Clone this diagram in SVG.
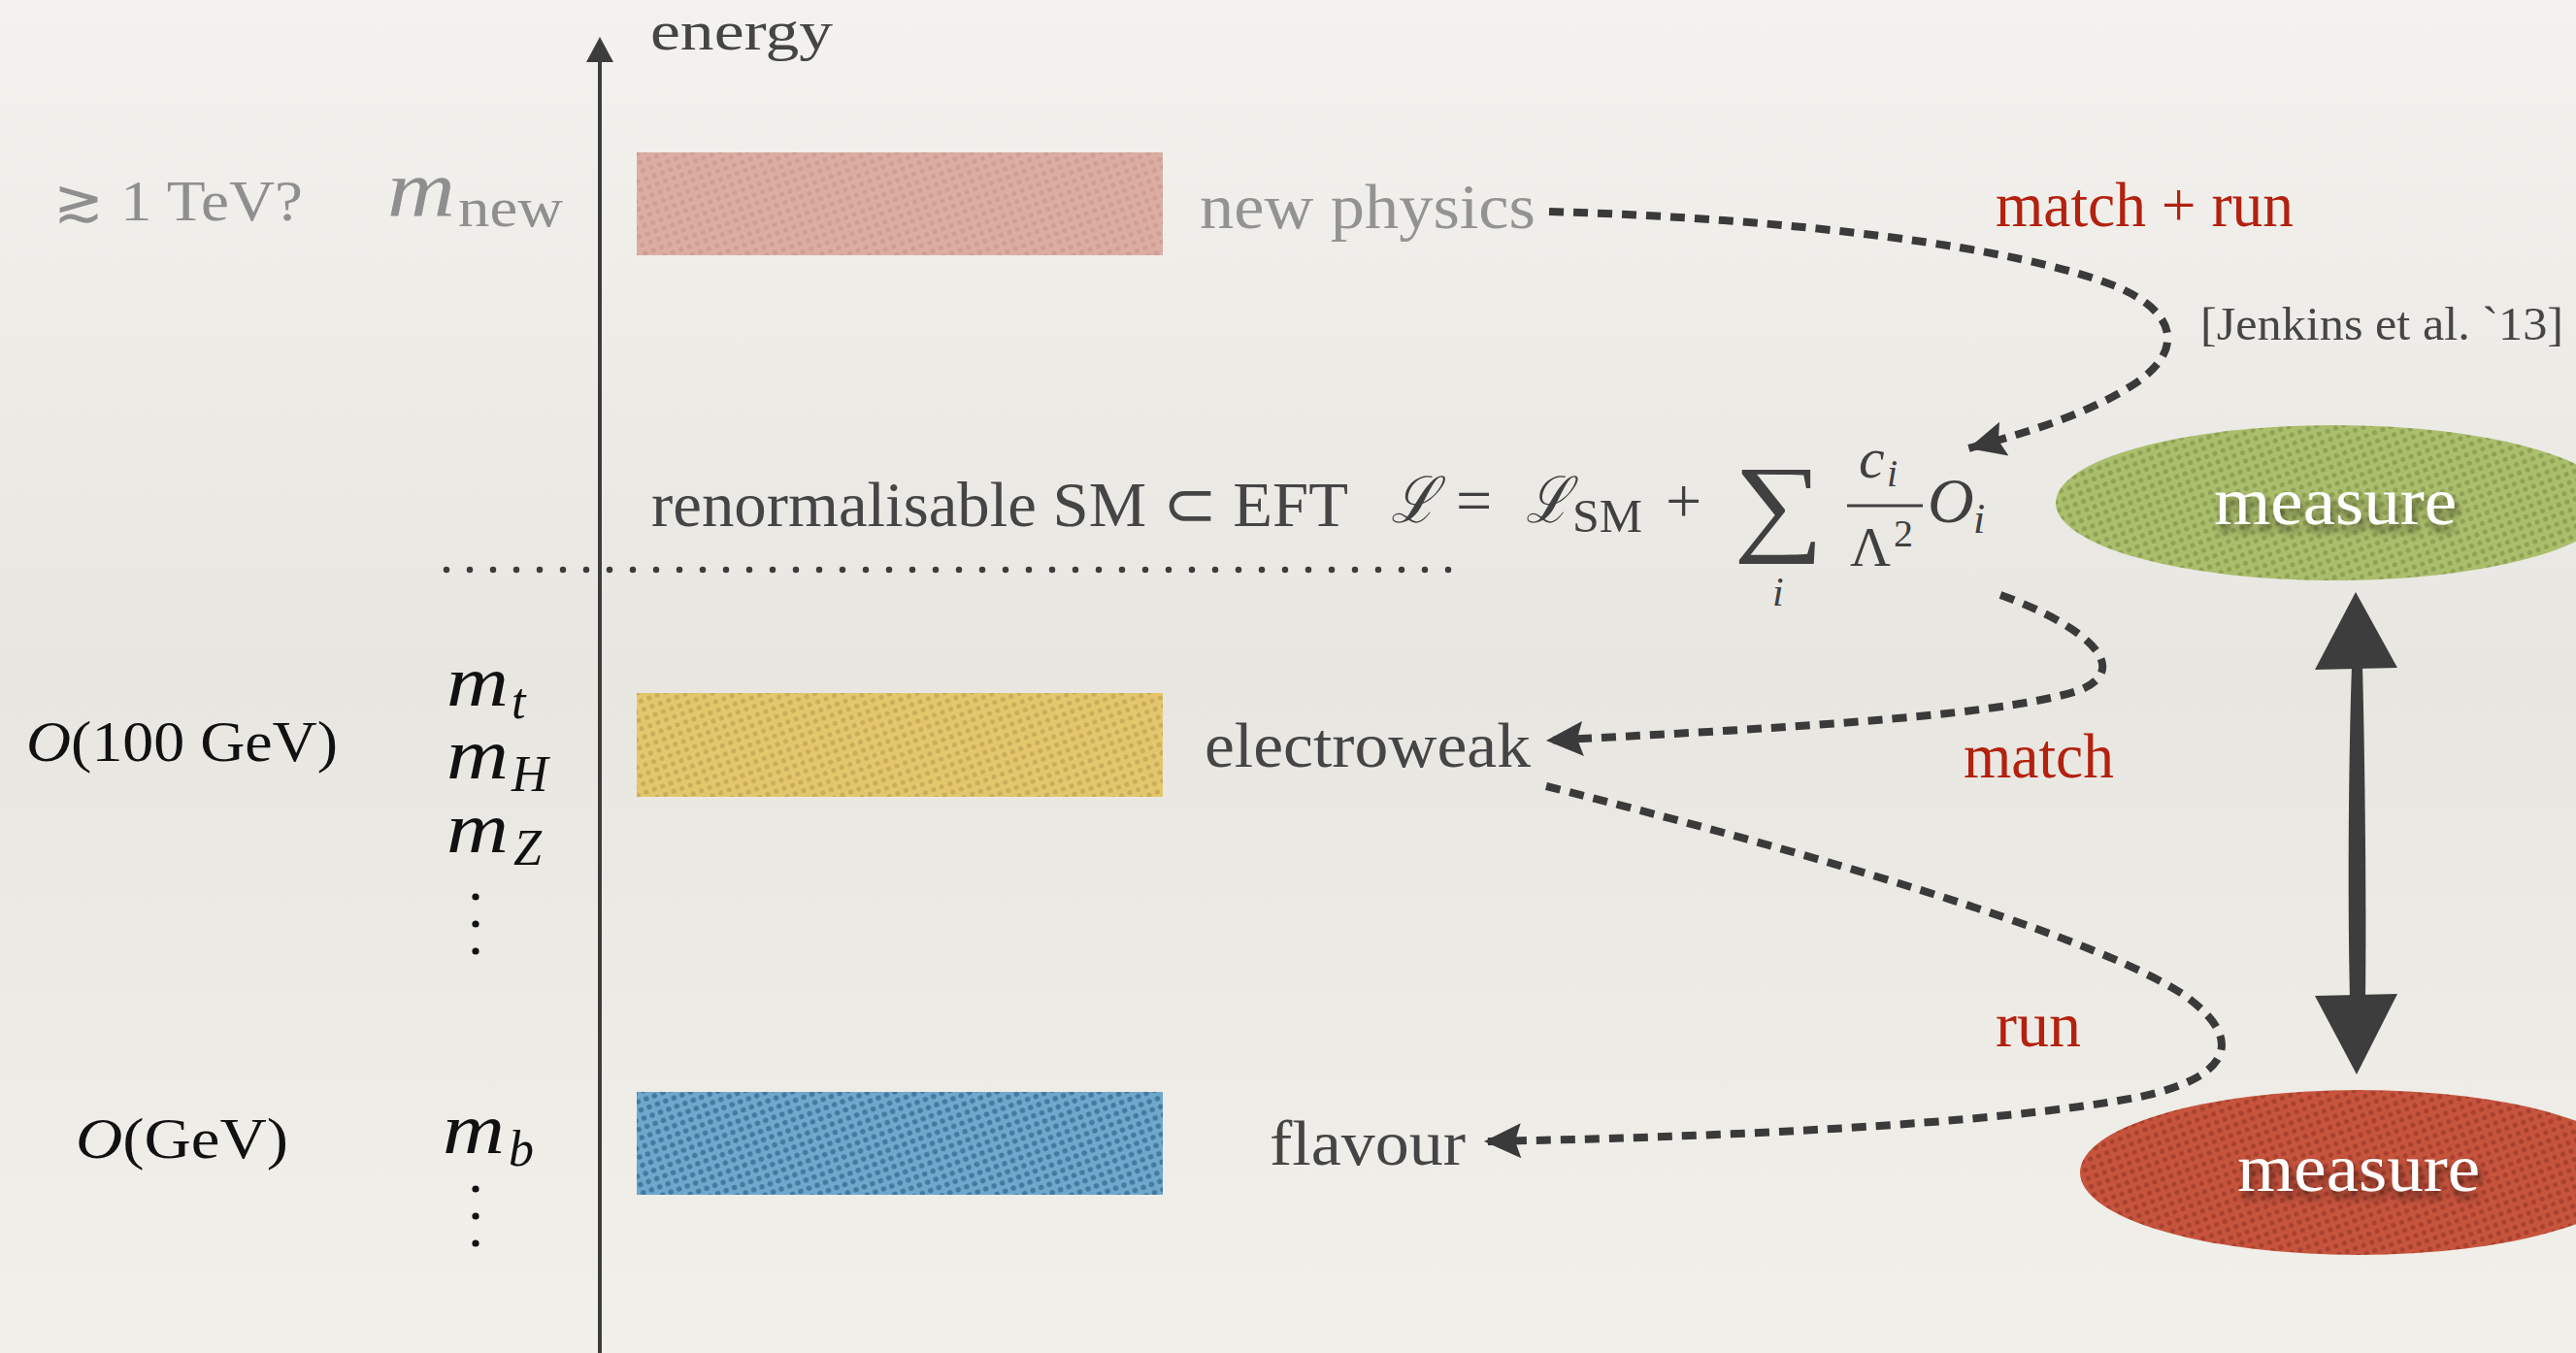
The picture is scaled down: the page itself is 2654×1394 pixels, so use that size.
<svg xmlns="http://www.w3.org/2000/svg" width="2654" height="1394" viewBox="0 0 2654 1394">
<style>
.lbl{font-family:"Liberation Serif","Times New Roman",serif;fill:#454545}
.gray{fill:#939391}
.red{fill:#b3210f}
.math{font-family:"Liberation Serif","DejaVu Serif",serif;fill:#111}
.it{font-style:italic}
.dash{fill:none;stroke:#3a3a3a;stroke-width:8;stroke-dasharray:15 10}
.meas{font-family:"Liberation Serif","Times New Roman",serif;fill:#fff;font-size:70px;text-anchor:middle}
</style>
<defs>
<linearGradient id="bg" x1="0" y1="0" x2="0" y2="1">
<stop offset="0" stop-color="#f4f2ee"/>
<stop offset="0.5" stop-color="#e8e6e1"/>
<stop offset="1" stop-color="#f2f0ea"/>
</linearGradient>
<pattern id="pPink" patternUnits="userSpaceOnUse" width="9" height="9" patternTransform="rotate(-20)">
<rect width="9" height="9" fill="#dcaea3"/><circle cx="4.5" cy="4.5" r="2.6" fill="#cf9e94"/>
</pattern>
<pattern id="pYel" patternUnits="userSpaceOnUse" width="9" height="9" patternTransform="rotate(-20)">
<rect width="9" height="9" fill="#e4c76c"/><circle cx="4.5" cy="4.5" r="2.6" fill="#c9ad5b"/>
</pattern>
<pattern id="pBlue" patternUnits="userSpaceOnUse" width="9" height="9" patternTransform="rotate(-20)">
<rect width="9" height="9" fill="#70a8cb"/><circle cx="4.5" cy="4.5" r="2.8" fill="#3f7ba2"/>
</pattern>
<pattern id="pGreen" patternUnits="userSpaceOnUse" width="9" height="9" patternTransform="rotate(-20)">
<rect width="9" height="9" fill="#abbe6c"/><circle cx="4.5" cy="4.5" r="2.6" fill="#8ea254"/>
</pattern>
<pattern id="pRed" patternUnits="userSpaceOnUse" width="9" height="9" patternTransform="rotate(-20)">
<rect width="9" height="9" fill="#c7543d"/><circle cx="4.5" cy="4.5" r="2.6" fill="#a8412f"/>
</pattern>
<filter id="shadow" x="-20%" y="-40%" width="140%" height="180%">
<feDropShadow dx="3" dy="7" stdDeviation="4" flood-color="#000" flood-opacity="0.55"/>
</filter>
<marker id="ah" markerUnits="userSpaceOnUse" markerWidth="44" markerHeight="40" refX="40" refY="18" orient="auto" viewBox="0 0 44 40">
<path d="M40,18 L2,0 L8,18 L2,36 Z" fill="#3a3a3a"/>
</marker>
</defs>
<rect width="2654" height="1394" fill="url(#bg)"/>

<g id="axis">
<line x1="618" y1="55" x2="618" y2="1394" stroke="#3c3c3c" stroke-width="4"/>
<path d="M618,38 L632,64 L604,64 Z" fill="#3c3c3c"/>
<text class="lbl" x="670" y="51" font-size="57" textLength="188" lengthAdjust="spacingAndGlyphs">energy</text>
</g>

<g id="scale-labels">
<text class="math" x="55" y="228" font-size="62" style="fill:#8f8f8f">≳</text>
<text class="math" x="124" y="227" font-size="60" style="fill:#8f8f8f" textLength="188" lengthAdjust="spacingAndGlyphs">1 TeV?</text>
<text class="math it" x="399" y="222" font-size="82" style="fill:#8f8f8f" textLength="70" lengthAdjust="spacingAndGlyphs">m</text>
<text class="math" x="472" y="233" font-size="58" style="fill:#8f8f8f" textLength="108" lengthAdjust="spacingAndGlyphs">new</text>

<text class="math" x="27" y="784" font-size="60" textLength="321" lengthAdjust="spacingAndGlyphs"><tspan font-style="italic">O</tspan>(100 GeV)</text>
<text class="math" x="78" y="1193" font-size="60" textLength="219" lengthAdjust="spacingAndGlyphs"><tspan font-style="italic">O</tspan>(GeV)</text>

<text class="math it" x="460" y="727" font-size="74" textLength="64" lengthAdjust="spacingAndGlyphs">m</text>
<text class="math it" x="527" y="740" font-size="52">t</text>
<text class="math it" x="460" y="802" font-size="74" textLength="64" lengthAdjust="spacingAndGlyphs">m</text>
<text class="math it" x="527" y="815" font-size="52">H</text>
<text class="math it" x="460" y="878" font-size="74" textLength="64" lengthAdjust="spacingAndGlyphs">m</text>
<text class="math it" x="529" y="891" font-size="52">Z</text>
<circle cx="490" cy="924" r="3.6" fill="#111"/>
<circle cx="490" cy="952" r="3.6" fill="#111"/>
<circle cx="490" cy="980" r="3.6" fill="#111"/>
<text class="math it" x="456" y="1188" font-size="74" textLength="64" lengthAdjust="spacingAndGlyphs">m</text>
<text class="math it" x="524" y="1201" font-size="52">b</text>
<circle cx="490" cy="1225" r="3.6" fill="#111"/>
<circle cx="490" cy="1253" r="3.6" fill="#111"/>
<circle cx="490" cy="1281" r="3.6" fill="#111"/>
</g>

<g id="new-physics">
<rect x="656" y="157" width="542" height="106" fill="url(#pPink)"/>
<text class="lbl gray" x="1236" y="235" font-size="66" textLength="346" lengthAdjust="spacingAndGlyphs">new physics</text>
</g>

<g id="eft">
<text class="lbl" x="671" y="542" font-size="66" textLength="718" lengthAdjust="spacingAndGlyphs">renormalisable SM ⊂ EFT</text>
<line x1="460" y1="587" x2="1500" y2="587" stroke="#3c3c3c" stroke-width="6.5" stroke-linecap="round" stroke-dasharray="0 24"/>
<g id="formula" fill="#404040" font-family="Liberation Serif, DejaVu Serif, serif">
<text x="1433" y="538" font-size="66" font-style="italic" textLength="48" lengthAdjust="spacingAndGlyphs">ℒ</text>
<text x="1500" y="538" font-size="66">=</text>
<text x="1572" y="538" font-size="66" font-style="italic" textLength="46" lengthAdjust="spacingAndGlyphs">ℒ</text>
<text x="1620" y="548" font-size="48" textLength="72" lengthAdjust="spacingAndGlyphs">SM</text>
<text x="1716" y="538" font-size="66">+</text>
<text x="1786" y="557" font-size="112" textLength="93" lengthAdjust="spacingAndGlyphs">∑</text>
<text x="1826" y="624" font-size="42" font-style="italic">i</text>
<text x="1915" y="492" font-size="60" font-style="italic">c</text>
<text x="1944" y="501" font-size="40" font-style="italic">i</text>
<line x1="1903" y1="521" x2="1981" y2="521" stroke="#404040" stroke-width="3"/>
<text x="1906" y="583" font-size="58">Λ</text>
<text x="1951" y="563" font-size="40">2</text>
<text x="1986" y="538" font-size="66" font-style="italic">O</text>
<text x="2033" y="549" font-size="44" font-style="italic">i</text>
</g>
</g>

<g id="electroweak">
<rect x="656" y="714" width="542" height="107" fill="url(#pYel)"/>
<text class="lbl" x="1241" y="790" font-size="66" textLength="336" lengthAdjust="spacingAndGlyphs">electroweak</text>
</g>

<g id="flavour">
<rect x="656" y="1125" width="542" height="106" fill="url(#pBlue)"/>
<text class="lbl" x="1308" y="1200" font-size="66" textLength="202" lengthAdjust="spacingAndGlyphs">flavour</text>
</g>

<g id="measure-high">
<ellipse cx="2405" cy="518" rx="287" ry="80" fill="url(#pGreen)"/>
<text class="meas" x="2406" y="540" filter="url(#shadow)" textLength="250" lengthAdjust="spacingAndGlyphs">measure</text>
</g>

<g id="measure-low">
<ellipse cx="2430" cy="1208" rx="287" ry="85" fill="url(#pRed)"/>
<text class="meas" x="2430" y="1227" filter="url(#shadow)" textLength="250" lengthAdjust="spacingAndGlyphs">measure</text>
</g>

<g id="connectors">
<path class="dash" d="M1596,218 C1850,225 2080,255 2180,295 C2250,325 2245,365 2200,395 C2150,428 2080,448 2028,462" marker-end="url(#ah)"/>
<path class="dash" d="M2061,613 C2150,645 2200,690 2140,712 C2050,740 1800,752 1593,763" marker-end="url(#ah)"/>
<path class="dash" d="M1593,810 C1850,875 2150,960 2250,1025 C2320,1075 2290,1112 2205,1130 C2050,1160 1750,1172 1529,1176" marker-end="url(#ah)"/>
<g id="double-arrow" fill="#3d3d3d">
<path d="M2427,610 L2470,688 L2385,690 Z"/>
<path d="M2423,686 C2419,800 2419,950 2421,1028 L2437,1028 C2438,950 2437,800 2434,686 Z"/>
<path d="M2385,1026 L2470,1024 L2428,1107 Z"/>
</g>
<text class="lbl red" x="2056" y="233" font-size="66" textLength="307" lengthAdjust="spacingAndGlyphs">match + run</text>
<text class="lbl" x="2267" y="350" font-size="48" textLength="374" lengthAdjust="spacingAndGlyphs">[Jenkins et al. `13]</text>
<text class="lbl red" x="2023" y="801" font-size="66" textLength="155" lengthAdjust="spacingAndGlyphs">match</text>
<text class="lbl red" x="2056" y="1078" font-size="66" textLength="88" lengthAdjust="spacingAndGlyphs">run</text>
</g>
</svg>
